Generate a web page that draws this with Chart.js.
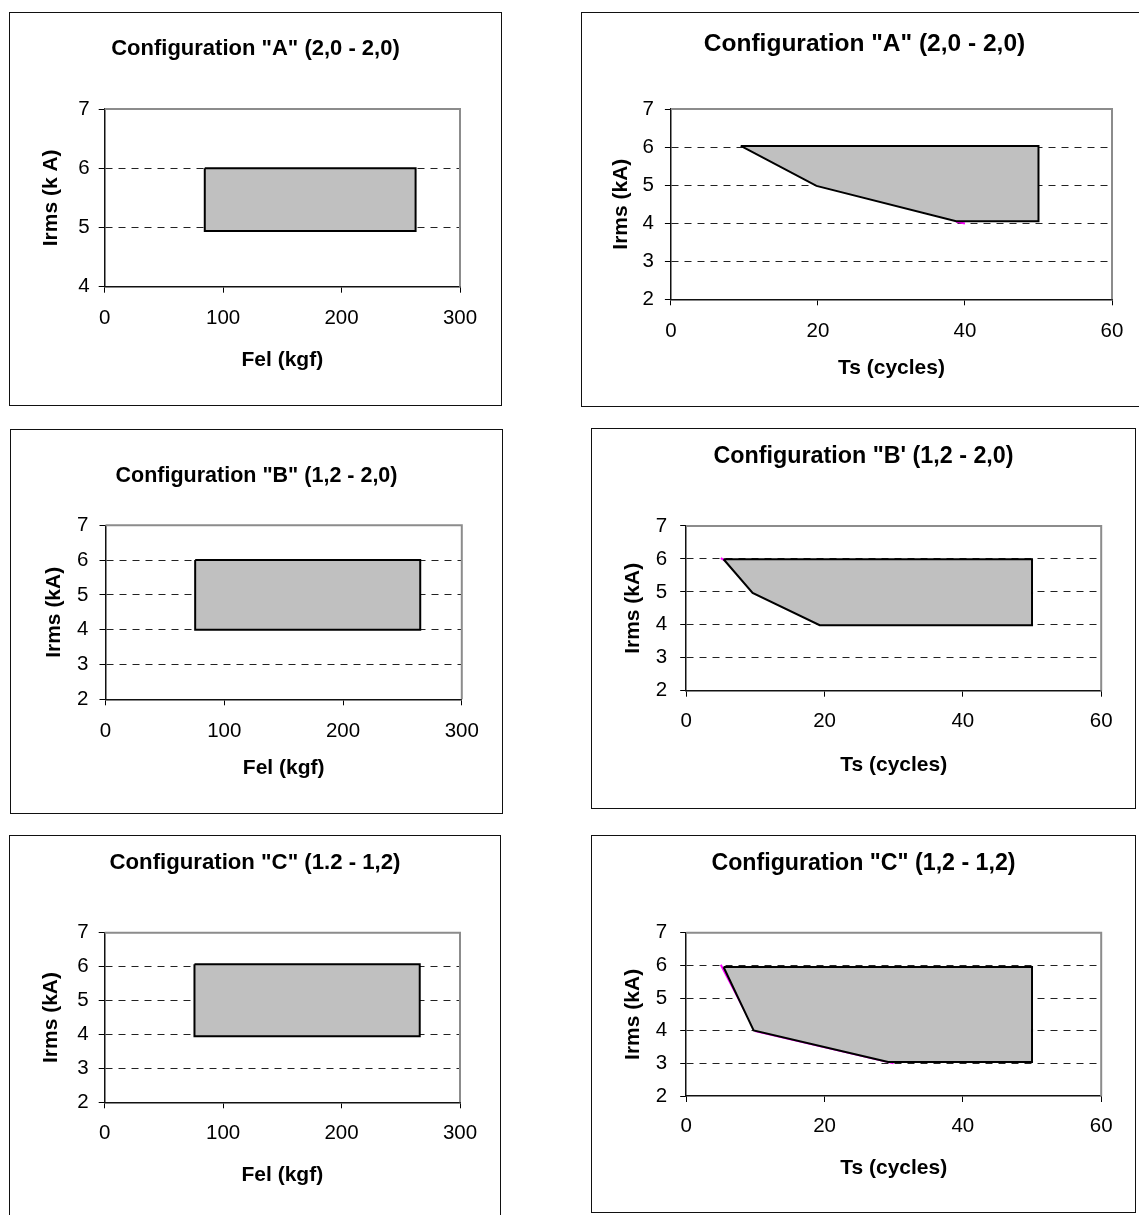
<!DOCTYPE html>
<html><head><meta charset="utf-8">
<script src="https://cdn.jsdelivr.net/npm/chart.js@4.4.1/dist/chart.umd.min.js"></script>
<style>
html,body{margin:0;padding:0;background:#fff;overflow:hidden;width:1139px;height:1215px;}
.box{position:absolute;box-sizing:border-box;border:1px solid #111;pointer-events:none;}
canvas{position:absolute;}
</style></head><body>
<script>
// ---- tick labels ----
const felTicks = [0, 100, 200, 300];
const tsTicks = [0, 20, 40, 60];
const irmsTicksA = [4, 5, 6, 7];
const irmsTicks = [2, 3, 4, 5, 6, 7];

// ---- Configuration A ----
const felA_x = [84.5, 262.5, 262.5, 84.5, 84.5];
const felA_y = [6.0, 6.0, 4.94, 4.94, 6.0];
const tsA_x = [9.5, 19.8, 38.8, 50, 50, 9.5];
const tsA_y = [6.03, 4.98, 4.05, 4.05, 6.03, 6.03];
const tsA_mark_x = [38.8, 40];
const tsA_mark_y = [4.04, 3.99];

// ---- Configuration B ----
const felB_x = [75.5, 265, 265, 75.5, 75.5];
const felB_y = [6.0, 6.0, 4.0, 4.0, 6.0];
const tsB_x = [5.4, 9.6, 19.3, 50, 50, 5.4];
const tsB_y = [5.99, 4.97, 3.99, 3.99, 5.99, 5.99];
const tsB_mark_x = [5.0, 5.6];
const tsB_mark_y = [6.02, 5.95];

// ---- Configuration C ----
const felC_x = [75.8, 266, 266, 75.8, 75.8];
const felC_y = [6.07, 6.07, 3.95, 3.95, 6.07];
const tsC_x = [5.4, 9.75, 29.2, 50, 50, 5.4];
const tsC_y = [5.95, 4.01, 3.04, 3.04, 5.95, 5.95];
const tsC_mark_x = [5, 10, 30];
const tsC_mark_y = [6.02, 3.99, 3.0];

const F = "'Liberation Sans', Arial, Helvetica, sans-serif";

const panels = [
  {box:[9,12,493,394], yW:95.7, rightW:42, xH:119.3, titleSize:22, titlePad:[23.8,46.8],
   title:'Configuration "A" (2,0 - 2,0)', yTitle:'Irms (k A)', xTitle:'Fel (kgf)',
   yTitlePad:29.4, xTitlePad:33.4, xTickPad:13, yTickPad:9,
   xMin:0, xMax:300, xTicks:felTicks, yMin:4, yMax:7, yTicks:irmsTicksA,
   sx:felA_x, sy:felA_y, mx:null, my:null},
  {box:[581,12,567,395], yW:89.9, rightW:36, xH:107.7, titleSize:24.5, titlePad:[17.6,50.0],
   title:'Configuration "A" (2,0 - 2,0)', yTitle:'Irms (kA)', xTitle:'Ts (cycles)',
   yTitlePad:27.2, xTitlePad:26.4, xTickPad:14, yTickPad:11,
   xMin:0, xMax:60, xTicks:tsTicks, yMin:2, yMax:7, yTicks:irmsTicks,
   sx:tsA_x, sy:tsA_y, mx:tsA_mark_x, my:tsA_mark_y},
  {box:[10,429,493,385], yW:95.5, rightW:41.2, xH:114.7, titleSize:21.5, titlePad:[34.1,36.4],
   title:'Configuration "B" (1,2 - 2,0)', yTitle:'Irms (kA)', xTitle:'Fel (kgf)',
   yTitlePad:31.9, xTitlePad:33.1, xTickPad:14, yTickPad:11,
   xMin:0, xMax:300, xTicks:felTicks, yMin:2, yMax:7, yTicks:irmsTicks,
   sx:felB_x, sy:felB_y, mx:null, my:null},
  {box:[591,428,545,381], yW:95.2, rightW:34.8, xH:118.3, titleSize:23.3, titlePad:[14.7,55.3],
   title:'Configuration "B\' (1,2 - 2,0)', yTitle:'Irms (kA)', xTitle:'Ts (cycles)',
   yTitlePad:29.9, xTitlePad:31.4, xTickPad:12.7, yTickPad:13,
   xMin:0, xMax:60, xTicks:tsTicks, yMin:2, yMax:7, yTicks:irmsTicks,
   sx:tsB_x, sy:tsB_y, mx:tsB_mark_x, my:tsB_mark_y},
  {box:[9,835,492,400], yW:95.7, rightW:41, xH:132.7, titleSize:22.2, titlePad:[15,56.1],
   title:'Configuration "C" (1.2 - 1,2)', yTitle:'Irms (kA)', xTitle:'Fel (kgf)',
   yTitlePad:29.4, xTitlePad:47.4, xTickPad:12.7, yTickPad:10,
   xMin:0, xMax:300, xTicks:felTicks, yMin:2, yMax:7, yTicks:irmsTicks,
   sx:felC_x, sy:felC_y, mx:null, my:null},
  {box:[591,835,545,378], yW:95.2, rightW:34.8, xH:117, titleSize:23.2, titlePad:[14.4,55.5],
   title:'Configuration "C" (1,2 - 1,2)', yTitle:'Irms (kA)', xTitle:'Ts (cycles)',
   yTitlePad:29.9, xTitlePad:32.1, xTickPad:12.4, yTickPad:13,
   xMin:0, xMax:60, xTicks:tsTicks, yMin:2, yMax:7, yTicks:irmsTicks,
   sx:tsC_x, sy:tsC_y, mx:tsC_mark_x, my:tsC_mark_y}
];

const framePlugin = {
  id: 'plotFrame',
  beforeDatasetsDraw(chart) {
    const {ctx, chartArea: a} = chart;
    ctx.save();
    ctx.strokeStyle = '#8c8c8c';
    ctx.lineWidth = 2;
    ctx.beginPath();
    ctx.moveTo(a.left, a.top);
    ctx.lineTo(a.right, a.top);
    ctx.lineTo(a.right, a.bottom);
    ctx.stroke();
    ctx.restore();
  }
};

panels.forEach(p => {
  const [bx, by, bw, bh] = p.box;
  const cv = document.createElement('canvas');
  cv.width = bw; cv.height = bh;
  cv.style.left = bx + 'px'; cv.style.top = by + 'px';
  cv.style.width = bw + 'px'; cv.style.height = bh + 'px';
  document.body.appendChild(cv);
  const bd = document.createElement('div');
  bd.className = 'box';
  bd.style.left = bx + 'px'; bd.style.top = by + 'px';
  bd.style.width = bw + 'px'; bd.style.height = bh + 'px';
  document.body.appendChild(bd);

  const datasets = [{
    data: p.sx.map((x, i) => ({x: x, y: p.sy[i]})),
    xAxisID: 'x', yAxisID: 'y',
    showLine: true, fill: 'shape', backgroundColor: '#C0C0C0',
    borderColor: '#000', borderWidth: 2, pointRadius: 0, tension: 0,
    borderJoinStyle: 'miter'
  }];
  if (p.mx) {
    datasets.push({
      data: p.mx.map((x, i) => ({x: x, y: p.my[i]})),
      xAxisID: 'x', yAxisID: 'y',
      showLine: true, fill: false, borderColor: '#FF00FF', borderWidth: 2,
      pointRadius: 0, tension: 0
    });
  }

  new Chart(cv, {
    type: 'scatter',
    data: {datasets},
    plugins: [framePlugin],
    options: {
      responsive: false, animation: false, devicePixelRatio: 1,
      layout: {padding: 0},
      plugins: {
        legend: {display: false},
        tooltip: {enabled: false},
        title: {display: true, text: p.title, color: '#000',
          font: {family: F, size: p.titleSize, weight: 'bold'},
          padding: {top: p.titlePad[0], bottom: p.titlePad[1]}}
      },
      scales: {
        x: {
          type: 'linear', position: 'bottom', min: p.xMin, max: p.xMax,
          afterBuildTicks: s => { s.ticks = p.xTicks.map(v => ({value: v})); },
          afterFit: s => { s.height = p.xH; },
          ticks: {color: '#000', font: {family: F, size: 20.5}, padding: p.xTickPad,
                  maxRotation: 0, autoSkip: false},
          grid: {drawOnChartArea: false, drawTicks: true, tickLength: 6,
                 tickColor: '#000', tickWidth: 1},
          border: {display: true, color: '#111', width: 1.5},
          title: {display: true, text: p.xTitle, color: '#000',
                  font: {family: F, size: 21, weight: 'bold'},
                  padding: {top: 0, bottom: p.xTitlePad}}
        },
        y: {
          type: 'linear', position: 'left', min: p.yMin, max: p.yMax,
          afterBuildTicks: s => { s.ticks = p.yTicks.map(v => ({value: v})); },
          afterFit: s => { s.width = p.yW; },
          ticks: {color: '#000', font: {family: F, size: 20.5}, padding: p.yTickPad,
                  autoSkip: false},
          grid: {drawOnChartArea: true, drawTicks: true, tickLength: 6,
                 lineWidth: 1, tickColor: '#000', tickWidth: 1, tickBorderDash: [],
                 color: c => (c.tick && (c.tick.value === p.yMin || c.tick.value === p.yMax))
                             ? 'rgba(0,0,0,0)' : '#222'},
          border: {display: true, color: '#111', width: 1.5, dash: [7, 6]},
          title: {display: true, text: p.yTitle, color: '#000',
                  font: {family: F, size: 21, weight: 'bold'},
                  padding: {top: p.yTitlePad, bottom: 0}}
        },
        yR: {
          axis: 'y', type: 'linear', position: 'right', display: true,
          afterFit: s => { s.width = p.rightW; },
          ticks: {display: false},
          grid: {display: false, drawOnChartArea: false, drawTicks: false},
          border: {display: false},
          title: {display: false}
        }
      }
    }
  });
});
</script>
</body></html>
